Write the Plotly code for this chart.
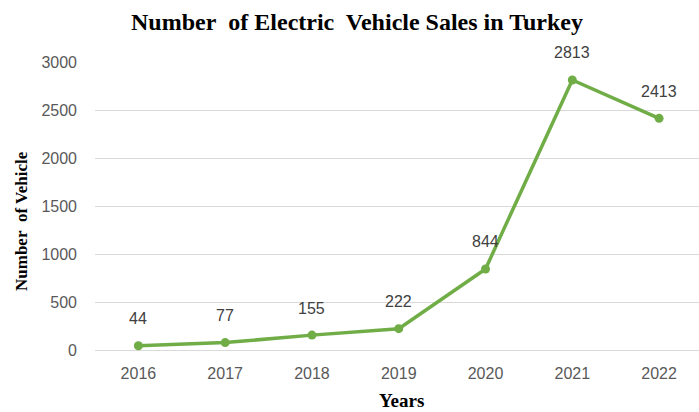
import plotly.graph_objects as go

years = ["2016", "2017", "2018", "2019", "2020", "2021", "2022"]
sales = [44, 77, 155, 222, 844, 2813, 2413]
y_ticks = [0, 500, 1000, 1500, 2000, 2500, 3000]

green = "#70AD47"
sans = "Liberation Sans, Arial, sans-serif"
serif = "Liberation Serif, Times New Roman, serif"

fig = go.Figure()
fig.add_trace(go.Scatter(
    x=years, y=sales, mode="lines+markers",
    line=dict(color=green, width=3.5),
    marker=dict(color=green, size=9),
    hoverinfo="skip", showlegend=False, cliponaxis=False,
))
for i, yv in enumerate(sales):
    fig.add_annotation(x=i, y=yv, xref="x", yref="y", text=str(yv), showarrow=False,
                       yshift=27, font=dict(size=16, color="#404040", family=sans))

# axis titles as paper annotations
fig.add_annotation(xref="paper", yref="paper", x=(401 - 95) / 604, y=-(400 - 350) / 288,
                   text="<b>Years</b>", showarrow=False, xanchor="center", yanchor="middle",
                   font=dict(family=serif, size=19, color="black"))
fig.add_annotation(xref="paper", yref="paper", x=(22 - 95) / 604, y=(350 - 221) / 288,
                   text="<b>Number&nbsp; of Vehicle</b>", showarrow=False, textangle=-90,
                   xanchor="center", yanchor="middle",
                   font=dict(family=serif, size=17, color="black"))

tickfont = dict(size=16, color="#595959", family=sans)
fig.update_layout(
    width=699, height=412,
    paper_bgcolor="white", plot_bgcolor="white",
    margin=dict(l=95, r=0, t=62, b=62, autoexpand=False),
    title=dict(text="<b>Number&nbsp; of Electric&nbsp; Vehicle Sales in Turkey</b>",
               x=357 / 699, xanchor="center", y=1 - 22 / 412, yanchor="middle",
               font=dict(family=serif, size=24, color="black")),
    xaxis=dict(type="category", range=[-0.5, 6.46], showgrid=False, zeroline=False,
               showline=False, ticks="", tickfont=tickfont, ticklabelstandoff=12,
               automargin=False),
    yaxis=dict(range=[0, 3000], tickvals=y_ticks, showgrid=True, gridcolor="#D9D9D9", gridwidth=1,
               zeroline=True, zerolinecolor="#D9D9D9", zerolinewidth=1, showline=False, ticks="",
               tickfont=tickfont, ticklabelstandoff=17, automargin=False),
)
fig.write_html("out.html", config={"displayModeBar": False},
               post_script="document.body.style.margin='0';document.body.style.overflow='hidden';")
